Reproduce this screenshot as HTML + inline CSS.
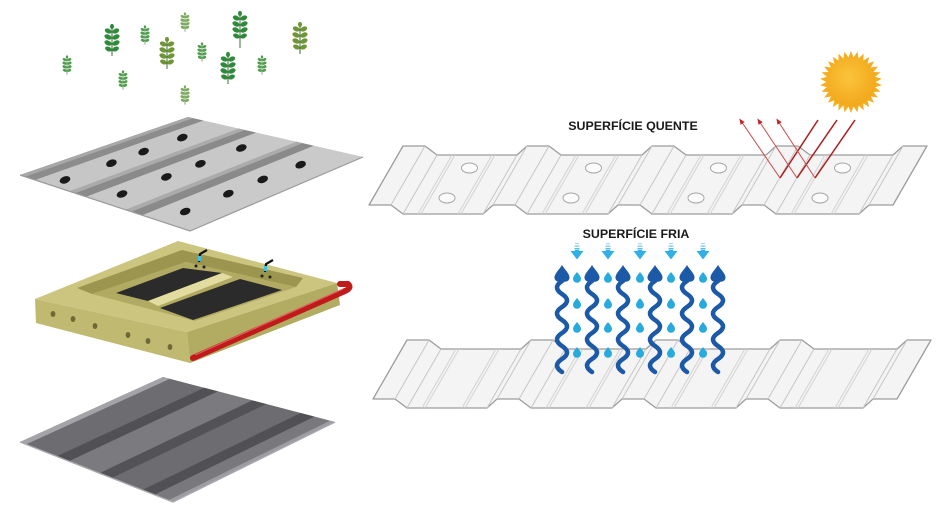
<!DOCTYPE html>
<html><head><meta charset="utf-8"><style>
html,body{margin:0;padding:0;background:#fff;}
svg{display:block;}
text{font-family:"Liberation Sans",Arial,sans-serif;font-weight:bold;fill:#1a1a1a;}
</style></head><body>
<svg width="950" height="518" viewBox="0 0 950 518" xmlns="http://www.w3.org/2000/svg">
<defs>
 <g id="sprig">
  <line x1="0" y1="-15" x2="0" y2="16" stroke="#3d6b35" stroke-width="1"/>
  <ellipse cx="0" cy="-13.5" rx="2" ry="2.6"/>
  <ellipse cx="-3.8" cy="-9" rx="3.6" ry="2.3" transform="rotate(25 -3.8 -9)"/>
  <ellipse cx="3.8" cy="-9" rx="3.6" ry="2.3" transform="rotate(-25 3.8 -9)"/>
  <ellipse cx="-4" cy="-3" rx="3.8" ry="2.4" transform="rotate(25 -4 -3)"/>
  <ellipse cx="4" cy="-3" rx="3.8" ry="2.4" transform="rotate(-25 4 -3)"/>
  <ellipse cx="-4" cy="3" rx="3.8" ry="2.4" transform="rotate(25 -4 3)"/>
  <ellipse cx="4" cy="3" rx="3.8" ry="2.4" transform="rotate(-25 4 3)"/>
  <ellipse cx="-3.6" cy="9" rx="3.5" ry="2.3" transform="rotate(25 -3.6 9)"/>
  <ellipse cx="3.6" cy="9" rx="3.5" ry="2.3" transform="rotate(-25 3.6 9)"/>
 </g>
 <g id="sheet">
  <polygon points="403,146 425,146 437,155 517,155 527,146 549,146 561,155 642,155 652,146 674,146 686,155 766,155 776,146 798,146 810,155 893,155 903,146 927,146 893,205 869,205 859,214 776,214 764,205 742,205 732,214 652,214 640,205 618,205 608,214 527,214 515,205 493,205 483,214 403,214 391,205 369,205" fill="#f4f4f4" stroke="#9c9c9c" stroke-width="1.3" stroke-linejoin="round"/>
  <g stroke="#c6c6c6" stroke-width="1" fill="none">
   <path d="M425,146L391,205M437,155L403,214M517,155L483,214M527,146L493,205M549,146L515,205M561,155L527,214M642,155L608,214M652,146L618,205M674,146L640,205M686,155L652,214M766,155L732,214M776,146L742,205M798,146L764,205M810,155L776,214M893,155L859,214M903,146L869,205"/>
   <path d="M452,155L418,214M455,155L421,214M492,155L458,214M495,155L461,214M576,155L542,214M579,155L545,214M616,155L582,214M619,155L585,214M701,155L667,214M704,155L670,214M741,155L707,214M744,155L710,214M825,155L791,214M828,155L794,214M865,155L831,214M868,155L834,214" stroke="#d2d2d2"/>
  </g>
 </g>
 <g id="darr">
  <rect x="-2" y="243" width="4" height="1.2" fill="#a6dcf3"/>
  <rect x="-2.5" y="245.5" width="5" height="1.3" fill="#7ccbef"/>
  <rect x="-2.5" y="248" width="5" height="1.5" fill="#55bdeb"/>
  <polygon points="-6.5,251 -2.2,251 -2.2,250 2.2,250 2.2,251 6.5,251 0,259.5" fill="#2fb0e6"/>
 </g>
 <path id="drop" d="M0,-5 C2.5,-2 4,0 4,1.8 A4,4 0 0 1 -4,1.8 C-4,0 -2.5,-2 0,-5Z" fill="#27aade"/>
 <g id="wave">
  <path d="M0,16 Q-10,22.5 0,29 T0,42 T0,55 T0,68 T0,81 T0,94 T0,107" fill="none" stroke="#1c5aa8" stroke-width="4.6" stroke-linecap="round"/>
  <path d="M0,0 C3,5 8,9 7.5,13 C7,17 2,17.5 0,16 C-2,17.5 -7,17 -7.5,13 C-8,9 -3,5 0,0Z" fill="#1c5aa8"/>
 </g>
 <marker id="ah" markerWidth="6" markerHeight="6" refX="3" refY="3" orient="auto" markerUnits="userSpaceOnUse"><path d="M0,0.5 L6,3 L0,5.5Z" fill="#c0282d"/></marker>
 <radialGradient id="sung" cx="0.45" cy="0.4" r="0.6"><stop offset="0" stop-color="#fbc43c"/><stop offset="1" stop-color="#f2a81c"/></radialGradient>
</defs>

<!-- plants -->
<use href="#sprig" transform="translate(67,65) scale(0.6)" fill="#4f9e4c"/>
<use href="#sprig" transform="translate(112,40)" fill="#2f8a3c"/>
<use href="#sprig" transform="translate(145,35) scale(0.6)" fill="#4f9e4c"/>
<use href="#sprig" transform="translate(185,22) scale(0.6)" fill="#7cab5c"/>
<use href="#sprig" transform="translate(167,53)" fill="#6f9636"/>
<line x1="240" y1="40" x2="240" y2="48" stroke="#3d6b35" stroke-width="1"/>
<use href="#sprig" transform="translate(240,27)" fill="#2f8a3c"/>
<use href="#sprig" transform="translate(202,52) scale(0.6)" fill="#4f9e4c"/>
<use href="#sprig" transform="translate(228,68)" fill="#2f8a3c"/>
<use href="#sprig" transform="translate(262,65) scale(0.6)" fill="#4f9e4c"/>
<use href="#sprig" transform="translate(300,38)" fill="#6f9636"/>
<use href="#sprig" transform="translate(123,80) scale(0.6)" fill="#4f9e4c"/>
<use href="#sprig" transform="translate(185,95) scale(0.6)" fill="#7cab5c"/>

<!-- top-left perforated sheet -->
<polygon points="20,175 188,117 363,157 190,231" fill="#cfcfcf"/>
<polygon points="20,175 188,117 203.75,120.6 35.3,180" fill="#8c8c8c"/>
<polygon points="20,175 188,117 193,118.2 25,176.8" fill="#a8a8a8"/>
<polygon points="69.3,191.2 238.75,128.6 256.3,132.6 86.3,196.8" fill="#8a8a8a"/>
<polygon points="69.3,191.2 238.75,128.6 245,130 75,193.2" fill="#ababab"/>
<polygon points="125.4,209.7 296.5,141.8 314,145.8 142.4,215.3" fill="#8a8a8a"/>
<polygon points="125.4,209.7 296.5,141.8 302.5,143.2 131.4,211.7" fill="#ababab"/>
<polygon points="35.3,180 203.75,120.6 238.75,128.6 69.3,191.2" fill="#c6c6c6"/>
<polygon points="86.3,196.8 256.3,132.6 296.5,141.8 125.4,209.7" fill="#c8c8c8"/>
<polygon points="142.4,215.3 314,145.8 363,157 190,231" fill="#cacaca"/>
<polyline points="20,175 190,231 363,157" fill="none" stroke="#9a9a9a" stroke-width="1.2"/>
<g fill="#1a1a1a">
 <ellipse cx="65" cy="179.9" rx="5.5" ry="3.5" transform="rotate(-20 65 179.9)"/>
 <ellipse cx="111.4" cy="163.2" rx="5.5" ry="3.5" transform="rotate(-20 111.4 163.2)"/>
 <ellipse cx="143.6" cy="151.6" rx="5.5" ry="3.5" transform="rotate(-20 143.6 151.6)"/>
 <ellipse cx="182.3" cy="137.6" rx="5.5" ry="3.5" transform="rotate(-20 182.3 137.6)"/>
 <ellipse cx="122" cy="194" rx="5.5" ry="3.5" transform="rotate(-20 122 194)"/>
 <ellipse cx="166.4" cy="176.9" rx="5.5" ry="3.5" transform="rotate(-20 166.4 176.9)"/>
 <ellipse cx="200.4" cy="163.8" rx="5.5" ry="3.5" transform="rotate(-20 200.4 163.8)"/>
 <ellipse cx="241.3" cy="148" rx="5.5" ry="3.5" transform="rotate(-20 241.3 148)"/>
 <ellipse cx="185.2" cy="211.5" rx="5.5" ry="3.5" transform="rotate(-20 185.2 211.5)"/>
 <ellipse cx="228.3" cy="193.7" rx="5.5" ry="3.5" transform="rotate(-20 228.3 193.7)"/>
 <ellipse cx="262.7" cy="179.4" rx="5.5" ry="3.5" transform="rotate(-20 262.7 179.4)"/>
 <ellipse cx="300.6" cy="164.7" rx="5.5" ry="3.5" transform="rotate(-20 300.6 164.7)"/>
</g>

<!-- foam block -->
<polygon points="35,299 187,332 190,363 36,323" fill="#c0b971"/>
<polygon points="187,332 337,283 340,305 190,363" fill="#b2ab62"/>
<polygon points="35,299 178,241 337,283 187,332" fill="#cbc580"/>
<polygon points="77,288 182,250 303,278 296,287 186,262 92,294" fill="#9b9550"/>
<polygon points="92,294 186,262 296,287 195,321" fill="#b0aa62"/>
<polygon points="116,293 183,268 222,273 148,301" fill="#2b2b2b"/>
<polygon points="148,301 222,273 233,277 158,306" fill="#e3dca0"/>
<polygon points="160,308 240,279 282,290 193,320" fill="#2b2b2b"/>
<g fill="#6e6a35">
 <ellipse cx="53" cy="314" rx="2.4" ry="3"/><ellipse cx="73" cy="319" rx="2.4" ry="3"/>
 <ellipse cx="95" cy="326" rx="2.4" ry="3"/><ellipse cx="128" cy="335" rx="2.4" ry="3"/>
 <ellipse cx="148" cy="341" rx="2.4" ry="3"/><ellipse cx="170" cy="347" rx="2.4" ry="3"/>
</g>
<path d="M199,262 L200,254 L207,250 M265,272 L266,264 L273,260" fill="none" stroke="#111" stroke-width="2.2"/>
<rect x="198" y="256" width="3" height="5" fill="#3cc4e8"/>
<rect x="264" y="266" width="3" height="5" fill="#3cc4e8"/>
<g fill="#222"><circle cx="196" cy="266" r="1.5"/><circle cx="204" cy="267" r="1.5"/><circle cx="262" cy="276" r="1.5"/><circle cx="270" cy="277" r="1.5"/></g>
<path d="M193,358 L345,291 Q352,288 348,284 L340,284" fill="none" stroke="#c01a1a" stroke-width="6" stroke-linecap="round" stroke-linejoin="round"/>
<path d="M195,355 L343,289" fill="none" stroke="#e06060" stroke-width="1.2"/>

<!-- bottom-left dark sheet -->
<polygon points="20,442 163,377 335,422 173,502" fill="#6c6c71"/>
<polygon points="20,442 163,377 169.9,378.8 26.1,444.4" fill="#a3a3a8"/>
<polygon points="56.7,456.4 204.3,387.8 218,391.4 69,461.2" fill="#505055"/>
<polygon points="69,461.2 218,391.4 252.4,400.4 99.6,473.2" fill="#7a7a7f"/>
<polygon points="99.6,473.2 252.4,400.4 266.2,404 111.8,478" fill="#525257"/>
<polygon points="142.4,490 300.6,413 314.4,416.6 154.6,494.8" fill="#505055"/>
<polygon points="154.6,494.8 314.4,416.6 329.8,420.7 168.4,500.2" fill="#78787d"/>
<polygon points="168.4,500.2 329.8,420.7 335,422 173,502" fill="#9c9ca1"/>
<polyline points="20,442 173,502 335,422" fill="none" stroke="#a8a8ad" stroke-width="1.4"/>

<!-- right top sheet -->
<use href="#sheet"/>
<g fill="#fbfbfb" stroke="#a8a8a8" stroke-width="1">
 <ellipse cx="469.5" cy="168" rx="8" ry="5"/><ellipse cx="447" cy="198" rx="8" ry="5"/>
 <ellipse cx="593.5" cy="168" rx="8" ry="5"/><ellipse cx="571" cy="198" rx="8" ry="5"/>
 <ellipse cx="718.5" cy="168" rx="8" ry="5"/><ellipse cx="696" cy="198" rx="8" ry="5"/>
 <ellipse cx="842.5" cy="168" rx="8" ry="5"/><ellipse cx="820" cy="198" rx="8" ry="5"/>
</g>
<!-- right bottom sheet -->
<use href="#sheet" transform="translate(4,194)"/>

<!-- sun -->
<g transform="translate(851,82)" fill="#f4ae1f">
 <polygon points="-3.2,-23 3.2,-23 0,-31"/>
 <polygon points="-3.2,-23 3.2,-23 0,-31" transform="rotate(12)"/>
 <polygon points="-3.2,-23 3.2,-23 0,-31" transform="rotate(24)"/>
 <polygon points="-3.2,-23 3.2,-23 0,-31" transform="rotate(36)"/>
 <polygon points="-3.2,-23 3.2,-23 0,-31" transform="rotate(48)"/>
 <polygon points="-3.2,-23 3.2,-23 0,-31" transform="rotate(60)"/>
 <polygon points="-3.2,-23 3.2,-23 0,-31" transform="rotate(72)"/>
 <polygon points="-3.2,-23 3.2,-23 0,-31" transform="rotate(84)"/>
 <polygon points="-3.2,-23 3.2,-23 0,-31" transform="rotate(96)"/>
 <polygon points="-3.2,-23 3.2,-23 0,-31" transform="rotate(108)"/>
 <polygon points="-3.2,-23 3.2,-23 0,-31" transform="rotate(120)"/>
 <polygon points="-3.2,-23 3.2,-23 0,-31" transform="rotate(132)"/>
 <polygon points="-3.2,-23 3.2,-23 0,-31" transform="rotate(144)"/>
 <polygon points="-3.2,-23 3.2,-23 0,-31" transform="rotate(156)"/>
 <polygon points="-3.2,-23 3.2,-23 0,-31" transform="rotate(168)"/>
 <polygon points="-3.2,-23 3.2,-23 0,-31" transform="rotate(180)"/>
 <polygon points="-3.2,-23 3.2,-23 0,-31" transform="rotate(192)"/>
 <polygon points="-3.2,-23 3.2,-23 0,-31" transform="rotate(204)"/>
 <polygon points="-3.2,-23 3.2,-23 0,-31" transform="rotate(216)"/>
 <polygon points="-3.2,-23 3.2,-23 0,-31" transform="rotate(228)"/>
 <polygon points="-3.2,-23 3.2,-23 0,-31" transform="rotate(240)"/>
 <polygon points="-3.2,-23 3.2,-23 0,-31" transform="rotate(252)"/>
 <polygon points="-3.2,-23 3.2,-23 0,-31" transform="rotate(264)"/>
 <polygon points="-3.2,-23 3.2,-23 0,-31" transform="rotate(276)"/>
 <polygon points="-3.2,-23 3.2,-23 0,-31" transform="rotate(288)"/>
 <polygon points="-3.2,-23 3.2,-23 0,-31" transform="rotate(300)"/>
 <polygon points="-3.2,-23 3.2,-23 0,-31" transform="rotate(312)"/>
 <polygon points="-3.2,-23 3.2,-23 0,-31" transform="rotate(324)"/>
 <polygon points="-3.2,-23 3.2,-23 0,-31" transform="rotate(336)"/>
 <polygon points="-3.2,-23 3.2,-23 0,-31" transform="rotate(348)"/>
 <circle r="24.5" fill="url(#sung)"/>
</g>

<!-- red rays -->
<g fill="none">
 <path d="M818,120 L780,178 M837,120 L797,178 M855,120 L815,178" stroke="#b01c1c" stroke-width="1.5"/>
 <path d="M780,178 L741,121" stroke="#cc4a4a" stroke-width="1" marker-end="url(#ah)"/>
 <path d="M797,178 L759,121" stroke="#cc4a4a" stroke-width="1" marker-end="url(#ah)"/>
 <path d="M815,178 L778,121" stroke="#cc4a4a" stroke-width="1" marker-end="url(#ah)"/>
</g>

<text x="633" y="130" font-size="12.4" text-anchor="middle">SUPERFÍCIE QUENTE</text>
<text x="636" y="238" font-size="12.4" text-anchor="middle">SUPERFÍCIE FRIA</text>

<!-- cold arrows -->
<use href="#darr" transform="translate(577,0)"/>
<use href="#darr" transform="translate(608,0)"/>
<use href="#darr" transform="translate(640,0)"/>
<use href="#darr" transform="translate(671,0)"/>
<use href="#darr" transform="translate(703,0)"/>

<g>
 <use href="#drop" x="577" y="277"/><use href="#drop" x="608" y="277"/><use href="#drop" x="640" y="277"/><use href="#drop" x="671" y="277"/><use href="#drop" x="703" y="277"/>
 <use href="#drop" x="577" y="303"/><use href="#drop" x="608" y="303"/><use href="#drop" x="640" y="303"/><use href="#drop" x="671" y="303"/><use href="#drop" x="703" y="303"/>
 <use href="#drop" x="577" y="327"/><use href="#drop" x="608" y="327"/><use href="#drop" x="640" y="327"/><use href="#drop" x="671" y="327"/><use href="#drop" x="703" y="327"/>
 <use href="#drop" x="577" y="352"/><use href="#drop" x="608" y="352"/><use href="#drop" x="640" y="352"/><use href="#drop" x="671" y="352"/><use href="#drop" x="703" y="352"/>
</g>

<use href="#wave" transform="translate(562,265)"/>
<use href="#wave" transform="translate(592,265)"/>
<use href="#wave" transform="translate(623,265)"/>
<use href="#wave" transform="translate(655,265)"/>
<use href="#wave" transform="translate(687,265)"/>
<use href="#wave" transform="translate(718,265)"/>
</svg>
</body></html>
